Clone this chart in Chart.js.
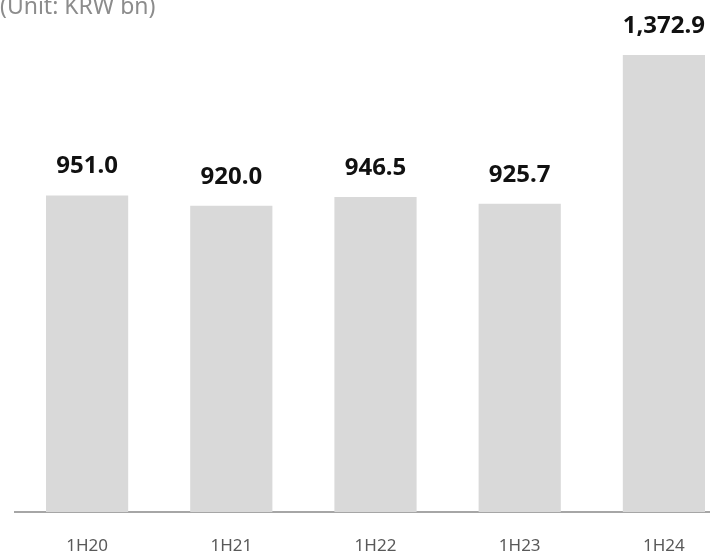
<!DOCTYPE html>
<html>
<head>
<meta charset="utf-8">
<script src="https://cdn.jsdelivr.net/npm/chart.js@4"></script>
<style>
  html, body { margin: 0; padding: 0; background: #fff; overflow: hidden; width: 710px; height: 553px; }
  #wrap { position: absolute; left: 0; top: 0; width: 740px; height: 553px; }
  #unit { position: absolute; left: 0; top: -10px; font-family: "Noto Sans", sans-serif; font-size: 23px; line-height: 30px; color: #8c8c8c; }
</style>
</head>
<body>
<div id="wrap"><canvas id="sales"></canvas></div>
<div id="unit">(Unit: KRW bn)</div>
<script>
const periods = ["1H20", "1H21", "1H22", "1H23", "1H24"];
const values = [951.0, 920.0, 946.5, 925.7, 1372.9];

const valueLabels = {
    id: "valueLabels",
    afterDatasetsDraw(chart) {
        const ctx = chart.ctx;
        ctx.save();
        ctx.font = "bold 24px 'Noto Sans', sans-serif";
        ctx.fillStyle = "#111";
        ctx.textAlign = "center";
        ctx.textBaseline = "middle";
        chart.getDatasetMeta(0).data.forEach((bar, i) => {
            ctx.fillText(values[i].toLocaleString("en-US", {minimumFractionDigits: 1}), bar.x, bar.y - 29);
        });
        ctx.restore();
    }
};

new Chart(document.getElementById("sales"), {
    type: "bar",
    data: {
        labels: periods,
        datasets: [
            {
                data: values,
                backgroundColor: "#d9d9d9",
                barPercentage: 0.57,
                categoryPercentage: 1,
            }
        ],
    },
    options: {
        maintainAspectRatio: false,
        responsive: true,
        animation: false,
        layout: { padding: { top: 46, left: 15, right: 4, bottom: 0 } },
        plugins: { legend: { display: false }, tooltip: { enabled: false } },
        scales: {
            y: { display: false, min: 0, max: 1400 },
            x: {
                afterFit: (scale) => { scale.height = 41; },
                grid: { display: false, drawTicks: false },
                border: { display: true, color: "#a6a6a6", width: 2 },
                ticks: { color: "#595959", font: { family: "Noto Sans", size: 17 }, padding: 24 },
            },
        },
    },
    plugins: [valueLabels],
});
</script>
</body>
</html>
